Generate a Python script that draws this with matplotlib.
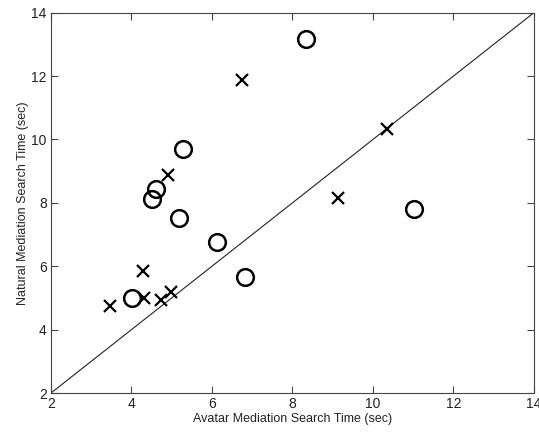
import matplotlib
matplotlib.use('Agg')
import matplotlib.pyplot as plt

plt.rcParams['font.family'] = ['Liberation Sans', 'DejaVu Sans']

# crosses
cross_x = [3.47, 4.29, 4.31, 4.73, 4.98, 4.91, 6.75, 10.36, 9.12]
cross_y = [4.75, 5.86, 5.01, 4.94, 5.20, 8.88, 11.88, 10.34, 8.16]

# circles
circ_x = [4.02, 4.51, 4.61, 5.29, 5.18, 6.12, 6.82, 8.34, 11.02]
circ_y = [5.01, 8.12, 8.43, 9.70, 7.51, 6.77, 5.67, 13.17, 7.82]

lims = [2, 14]

fig = plt.figure(figsize=(5.39, 4.36), dpi=100)
ax = fig.add_axes([0.0946, 0.0986, 0.8961, 0.8724])

ax.plot(lims, lims, color='#222222', linewidth=0.8)
ax.plot(cross_x, cross_y, linestyle='none', marker='x', markersize=9,
        markeredgewidth=1.6, color='black')
ax.plot(circ_x, circ_y, linestyle='none', marker='o', markersize=12,
        markeredgewidth=1.8, markerfacecolor='none', markeredgecolor='black')

ax.set_xlim(lims)
ax.set_ylim(lims)
ax.set_xticks(range(2, 15, 2))
ax.set_yticks(range(2, 15, 2))
for s in ax.spines.values():
    s.set_color('#444444')
ax.tick_params(direction='in', top=True, right=True, labelsize=10, length=5,
               pad=3, color='#444444', labelcolor='#222222')
ax.set_xlabel('Avatar Mediation Search Time (sec)', fontsize=9, labelpad=1,
              color='#222222')
ax.set_ylabel('Natural Mediation Search Time (sec)', fontsize=9, labelpad=2,
              color='#222222')

plt.savefig('out.png', dpi=100)
